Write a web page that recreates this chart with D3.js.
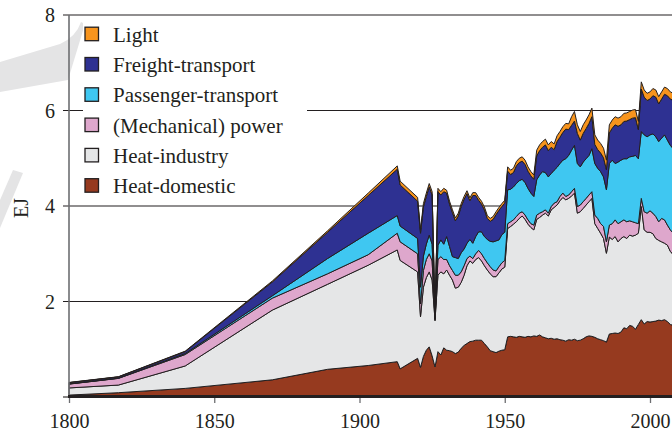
<!DOCTYPE html>
<html>
<head>
<meta charset="utf-8">
<script src="https://cdn.jsdelivr.net/npm/d3@7"></script>
<style>
  html, body { margin: 0; padding: 0; background: #fff; }
  svg { display: block; }
  svg text { font-family: "Liberation Serif", "Tinos", "Times New Roman", "Times", "Nimbus Roman", "FreeSerif", "DejaVu Serif", "Noto Serif", serif !important; fill: #231F20; }
</style>
</head>
<body>
<svg id="chart" width="672" height="432"></svg>
<script>
// ---- DATA (EJ) ----
const years = [1800,1817,1840,1870,1889,1903,1913,1914,
  1920,1921,1922,1923,1924,1925,1926,1927,1928,1929,
  1930,1931,1932,1933,1934,1935,1936,1937,1938,1939,
  1940,1941,1942,1943,1944,1945,1946,1947,1948,1949,
  1950,1951,1952,1953,1954,1955,1956,1957,1958,1959,
  1960,1961,1962,1963,1964,1965,1966,1967,1968,1969,
  1970,1971,1972,1973,1974,1975,1976,1977,1978,1979,
  1980,1981,1982,1983,1984,1985,1986,1987,1988,1989,
  1990,1991,1992,1993,1994,1995,1996,1997,1998,1999,
  2000,2001,2002,2003,2004,2005,2006,2007,2008];

const heatDomestic = [.04,.09,.18,.36,.58,.66,.74,.59,
  .81,.62,.85,.98,1.05,.86,.63,.95,.88,1.03,
  .98,.97,.95,.91,.94,1.02,1.08,1.12,1.16,1.17,
  1.19,1.19,1.19,1.12,1.05,.97,.95,.93,.96,.98,
  .99,1.26,1.27,1.26,1.25,1.27,1.26,1.25,1.27,1.26,
  1.28,1.27,1.30,1.26,1.24,1.22,1.23,1.21,1.22,1.20,
  1.19,1.17,1.20,1.19,1.21,1.18,1.19,1.22,1.26,1.28,
  1.27,1.25,1.22,1.20,1.18,1.15,1.32,1.33,1.34,1.33,
  1.36,1.45,1.43,1.50,1.48,1.42,1.52,1.62,1.53,1.58,
  1.57,1.58,1.59,1.61,1.60,1.62,1.58,1.52,1.50];

const heatIndustry = [.15,.16,.47,1.46,1.78,2.10,2.34,2.27,
  1.81,1.06,1.45,1.52,1.57,1.59,.97,1.60,1.74,1.55,
  1.68,1.58,1.50,1.37,1.36,1.38,1.47,1.63,1.69,1.63,
  1.69,1.73,1.66,1.63,1.61,1.61,1.57,1.59,1.64,1.70,
  1.73,2.27,2.30,2.36,2.42,2.47,2.53,2.47,2.35,2.29,
  2.22,2.45,2.46,2.55,2.61,2.57,2.69,2.76,2.80,2.91,
  2.99,2.96,2.96,3.02,3.06,2.67,2.69,2.73,2.76,2.81,
  2.89,2.38,2.31,2.23,2.14,1.86,2.03,1.97,2.02,1.92,
  1.96,1.91,1.89,1.89,1.89,1.97,1.91,2.37,1.97,1.87,
  1.88,1.84,1.73,1.67,1.65,1.60,1.60,1.53,1.48];

const mechanicalPower = [.08,.14,.24,.25,.22,.22,.35,.39,
  .38,.27,.35,.38,.38,.40,.03,.33,.32,.30,
  .22,.20,.20,.27,.25,.22,.20,.15,.10,.10,
  .12,.15,.15,.15,.15,.15,.14,.12,.13,.13,
  .14,.10,.10,.09,.11,.11,.09,.09,.09,.08,
  .10,.09,.09,.07,.07,.06,.07,.09,.07,.09,
  .09,.07,.07,.09,.10,.14,.14,.14,.14,.14,
  .14,.18,.21,.20,.25,.24,.25,.33,.35,.38,
  .35,.35,.35,.30,.30,.26,.20,.17,.38,.40,
  .45,.43,.46,.39,.49,.49,.42,.45,.45];

const passengerTransport = [.005,.005,.02,.05,.32,.45,.37,.33,
  .32,.35,.30,.32,.39,.35,.04,.30,.35,.32,
  .48,.40,.29,.37,.35,.40,.35,.32,.35,.32,
  .36,.39,.46,.46,.49,.53,.59,.63,.56,.59,
  .59,.71,.68,.69,.69,.68,.68,.68,.66,.64,
  .60,.74,.80,.84,.78,.76,.69,.69,.72,.69,
  .69,.79,.83,.87,.90,.90,.80,.83,.83,.83,
  .90,1.08,1.05,1.09,1.04,1.09,1.29,1.33,1.18,1.29,
  1.29,1.28,1.32,1.34,1.37,1.41,1.36,1.40,1.61,1.60,
  1.59,1.66,1.67,1.68,1.68,1.78,1.78,1.77,1.77];

const freightTransport = [.025,.025,.04,.29,.55,.79,.97,.86,
  .78,1.13,1.03,1.00,1.01,1.03,.05,1.12,.94,1.10,
  .91,.89,.92,.77,.89,.97,1.04,1.04,.81,1.00,
  .86,.66,.58,.56,.44,.42,.47,.55,.62,.59,
  .61,.39,.31,.30,.37,.38,.38,.38,.36,.36,
  .36,.50,.51,.51,.58,.55,.55,.43,.54,.55,
  .58,.62,.54,.52,.51,.63,.56,.60,.63,.67,
  .67,.40,.39,.39,.40,.42,.64,.67,.81,.75,
  .74,.78,.79,.78,.80,.79,.61,.89,.79,.76,
  .75,.80,.83,.79,.82,.85,.93,.97,1.01];

const light = [.005,.005,.01,.02,.03,.05,.07,.08,
  .08,.07,.07,.07,.07,.07,.02,.07,.07,.07,
  .06,.06,.06,.06,.06,.06,.06,.06,.06,.06,
  .06,.06,.06,.06,.06,.06,.06,.06,.06,.06,
  .06,.09,.09,.09,.09,.09,.09,.09,.09,.09,
  .09,.12,.12,.12,.12,.12,.12,.12,.12,.12,
  .12,.12,.12,.18,.20,.18,.18,.18,.18,.18,
  .18,.20,.20,.20,.20,.20,.17,.17,.17,.17,
  .17,.17,.17,.17,.17,.17,.17,.15,.15,.15,
  .15,.15,.15,.15,.15,.15,.15,.15,.15];

const seriesKeys = ["heatDomestic","heatIndustry","mechanical","passenger","freight","light"];
const seriesLabels = ["Heat-domestic","Heat-industry","(Mechanical) power","Passenger-transport","Freight-transport","Light"];
const seriesColors = ["#963A1F","#E5E6E7","#DEA7CC","#3FC7F1","#2E3192","#F7941D"];
const legendOrder = ["light","freight","passenger","mechanical","heatIndustry","heatDomestic"];

const xTicks = [1800,1850,1900,1950,2000];
const yTicks = [2,4,6,8];
const yLabel = "EJ";

// ---- CHART ----
const FONT = "'Liberation Serif', Tinos, 'Times New Roman', Times, 'Nimbus Roman', FreeSerif, 'DejaVu Serif', 'Noto Serif', serif";
const svg = d3.select("#chart");
const ink = "#231F20";
const x = d3.scaleLinear().domain([1800,2000]).range([69,650]);
const y = d3.scaleLinear().domain([0,8]).range([397,15]);

const rows = years.map((yr,i)=>({
  year: yr,
  heatDomestic: heatDomestic[i],
  heatIndustry: heatIndustry[i],
  mechanical: mechanicalPower[i],
  passenger: passengerTransport[i],
  freight: freightTransport[i],
  light: light[i]
}));
const stacked = d3.stack().keys(seriesKeys)(rows);

// watermark fragments
svg.append("path")
  .attr("d","M0,62 L60,44 Q76,37 81,22 L85,24 L68,80 L0,92 Z")
  .attr("fill","#E4E4E5");
svg.append("path")
  .attr("d","M13,170 L23,173 L0,228 L0,200 Z")
  .attr("fill","#E4E4E5");

// gridlines
svg.append("g").selectAll("line").data(yTicks).join("line")
  .attr("x1",63).attr("x2",672)
  .attr("y1",d=>y(d)).attr("y2",d=>y(d))
  .attr("stroke",ink).attr("stroke-width",1.1);

// areas
const area = d3.area()
  .x(d=>x(d.data.year))
  .y0(d=>y(d[0]))
  .y1(d=>y(d[1]));

svg.append("g").selectAll("path").data(stacked).join("path")
  .attr("d",area)
  .attr("fill",(d,i)=>seriesColors[i])
  .attr("stroke",ink)
  .attr("stroke-width",1)
  .attr("stroke-linejoin","round");

// y axis
const yAxis = d3.axisLeft(y).tickValues(yTicks).tickSize(0).tickFormat(d3.format("d"));
const gy = svg.append("g").attr("transform","translate(69,0)").call(yAxis);
gy.attr("font-family", FONT);
gy.select(".domain").remove();
gy.selectAll("text").attr("x",-14).attr("dy","0.34em")
  .style("font-size","20px").style("font-family",FONT).attr("fill",ink);

svg.append("line").attr("x1",69).attr("x2",69).attr("y1",15).attr("y2",397)
  .attr("stroke","#6D6E71").attr("stroke-width",1.6);
svg.append("line").attr("x1",63).attr("x2",69).attr("y1",y(0)).attr("y2",y(0))
  .attr("stroke",ink).attr("stroke-width",1.1);

// x axis
const xAxis = d3.axisBottom(x).tickValues(xTicks).tickSize(6).tickFormat(d3.format("d"));
const gx = svg.append("g").attr("transform","translate(0,397)").call(xAxis);
gx.attr("font-family", FONT);
gx.select(".domain").remove();
gx.selectAll(".tick line").attr("stroke","#6D6E71").attr("stroke-width",1.3);
gx.selectAll("text").attr("y",31).attr("dy",0)
  .style("font-size","20px").style("font-family",FONT).attr("fill",ink);

svg.append("line").attr("x1",68).attr("x2",672).attr("y1",396.5).attr("y2",396.5)
  .attr("stroke",ink).attr("stroke-width",3);

// y label
svg.append("text")
  .attr("transform","translate(28,208) rotate(-90)")
  .attr("text-anchor","middle")
  .style("font-size","20px").style("font-family",FONT)
  .text(yLabel);

// legend
svg.append("rect").attr("x",83).attr("y",19).attr("width",224).attr("height",182).attr("fill","#fff");
const lg = svg.append("g").selectAll("g").data(legendOrder).join("g")
  .attr("transform",(d,i)=>`translate(0,${41.7 + i*30.3})`);
lg.append("rect")
  .attr("x",85).attr("y",-14.5).attr("width",13.5).attr("height",13.5)
  .attr("fill",d=>seriesColors[seriesKeys.indexOf(d)])
  .attr("stroke",ink).attr("stroke-width",1.3);
lg.append("text")
  .attr("x",113).attr("y",0)
  .style("font-size","21px").style("font-family",FONT)
  .text(d=>seriesLabels[seriesKeys.indexOf(d)]);
</script>
</body>
</html>
